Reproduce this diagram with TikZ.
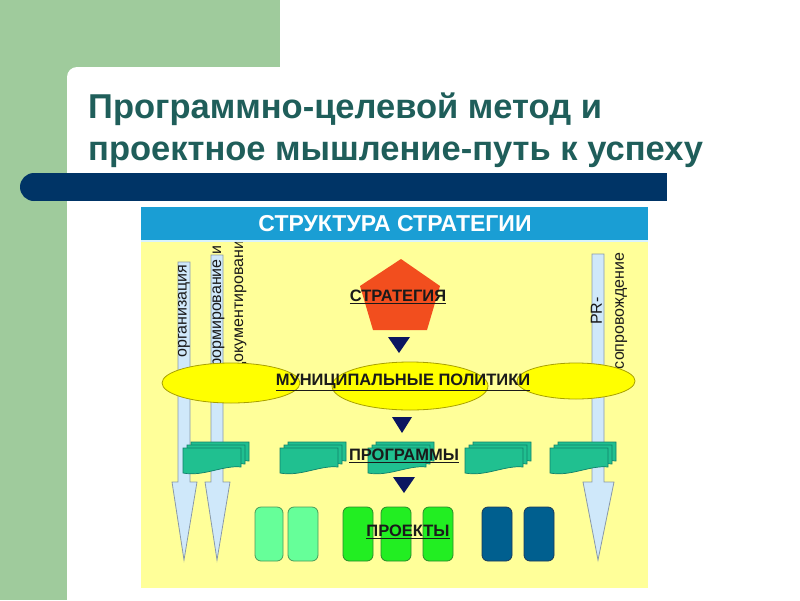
\documentclass[tikz,border=0pt]{standalone}
\usepackage{fontspec}
\setmainfont{Liberation Sans}
\definecolor{slidegreen}{HTML}{9FCB9C}
\definecolor{titlecol}{HTML}{1F5E5A}
\definecolor{barnavy}{HTML}{003466}
\definecolor{hdrblue}{HTML}{1A9ED4}
\definecolor{paleyellow}{HTML}{FFFF99}
\definecolor{arrowfill}{HTML}{CFE8FA}
\definecolor{arrowline}{HTML}{8A9AA8}
\definecolor{elfill}{HTML}{FFFF00}
\definecolor{elline}{HTML}{A8A000}
\definecolor{pentred}{HTML}{F24E1E}
\definecolor{trinavy}{HTML}{0B1660}
\definecolor{progfill}{HTML}{20C090}
\definecolor{progline}{HTML}{10806A}
\definecolor{lgfill}{HTML}{66FF99}
\definecolor{lgline}{HTML}{4A9A5A}
\definecolor{bgfill}{HTML}{22EE22}
\definecolor{bgline}{HTML}{2A8A2A}
\definecolor{dbfill}{HTML}{005F8F}
\definecolor{dbline}{HTML}{1A3A5A}
\definecolor{txtdark}{HTML}{1A1A1A}
\tikzset{
  bigarrow/.style={fill=arrowfill, draw=arrowline, line width=0.8pt, line join=miter},
  vlabel/.style={rotate=90, align=center, text=txtdark, font=\fontsize{16}{22}\selectfont, inner sep=0pt},
  ulabel/.style={text=txtdark, font=\fontsize{16.5}{19}\bfseries, inner sep=0pt},
  elstyle/.style={fill=elfill},
  elborder/.style={draw=elline, line width=0.8pt},
  tri/.style={fill=trinavy},
  prog/.style={fill=progfill, draw=progline, line width=0.7pt},
  proj/.style={rounded corners=6pt, line width=0.8pt},
  mdoc/.pic={
    \foreach \o in {8,4,0} {
      \filldraw[prog] (\o,-0.75*\o) -- (58+\o,-0.75*\o) -- (58+\o,19-0.75*\o)
        .. controls (40+\o,17-0.75*\o) and (20+\o,29-0.75*\o) .. (\o,25-0.75*\o) -- cycle;
    }
  }
}
\begin{document}
\begin{tikzpicture}[x=1pt,y=-1pt]
\useasboundingbox (0,0) rectangle (800,600);
% slide background
\fill[slidegreen] (0,0) rectangle (280,100);
\fill[slidegreen] (0,0) rectangle (67,600);
\fill[white, rounded corners=10pt] (67,67) rectangle (820,620);
% title
\node[anchor=base west, text=titlecol, font=\fontsize{34.5}{40}\bfseries, inner sep=0pt] (t1) at (88,118) {Программно-целевой метод и};
\node[anchor=base west, text=titlecol, font=\fontsize{34.5}{40}\bfseries, inner sep=0pt] (t2) at (88,160) {проектное мышление-путь к успеху};
% dark bar
\fill[barnavy] (34,173) rectangle (667,201);
\fill[barnavy] (34,187) circle[radius=14];
% diagram background
\fill[paleyellow] (141,240) rectangle (648,588);
% big arrows
\filldraw[bigarrow] (178,262) -- (190,262) -- (190,482) -- (197,482) -- (184,560) -- (172,482) -- (178,482) -- cycle;
\filldraw[bigarrow] (211,255) -- (223,255) -- (223,482) -- (230,482) -- (217,560) -- (205,482) -- (211,482) -- cycle;
\filldraw[bigarrow] (592,254) -- (604,254) -- (604,482) -- (614,482) -- (598,560) -- (583,482) -- (592,482) -- cycle;
% vertical labels
\node[vlabel] (org) at (184,311) {организация};
\node[vlabel, align=left, anchor=west] (form) at (228,372) {формирование и\\документирование};
\node[vlabel] (pr) at (609,311) {PR-\\сопровождение};
% header
\fill[hdrblue] (141,207) rectangle (648,240);
\fill[cyan!15] (141,240) rectangle (648,242);
\node[text=white, font=\fontsize{23}{26}\bfseries, inner sep=0pt] (hdr) at (395,224) {СТРУКТУРА СТРАТЕГИИ};
% pentagon
\fill[pentred] (401,259) -- (440,286) -- (427,330) -- (373,330) -- (360,286) -- cycle;
\node[ulabel] (strat) at (398,297) {\underline{СТРАТЕГИЯ}};
% triangles
\fill[tri] (388,337) -- (410,337) -- (399,353) -- cycle;
% ellipses
\fill[elstyle] (231,383) ellipse[x radius=69, y radius=20];
\fill[elstyle] (576,381) ellipse[x radius=59, y radius=18];
\fill[elstyle] (410,386) ellipse[x radius=78, y radius=24];
\draw[elborder] (231,383) ellipse[x radius=69, y radius=20];
\draw[elborder] (576,381) ellipse[x radius=59, y radius=18];
\draw[elborder] (410,386) ellipse[x radius=78, y radius=24];
\node[ulabel] (mun) at (403,382) {\underline{МУНИЦИПАЛЬНЫЕ ПОЛИТИКИ}};
\fill[tri] (392,417) -- (412,417) -- (402,433) -- cycle;
% programs
\pic at (183,448) {mdoc};
\pic at (280,448) {mdoc};
\pic at (368,448) {mdoc};
\pic at (465,448) {mdoc};
\pic at (550,448) {mdoc};
\node[ulabel] (progs) at (404,456) {\underline{ПРОГРАММЫ}};
\fill[tri] (393,477) -- (415,477) -- (404,493) -- cycle;
% projects
\filldraw[proj, fill=lgfill, draw=lgline] (255,507) rectangle (283,561);
\filldraw[proj, fill=lgfill, draw=lgline] (288,507) rectangle (318,561);
\filldraw[proj, fill=bgfill, draw=bgline] (343,507) rectangle (373,561);
\filldraw[proj, fill=bgfill, draw=bgline] (381,507) rectangle (411,561);
\filldraw[proj, fill=bgfill, draw=bgline] (423,507) rectangle (453,561);
\filldraw[proj, fill=dbfill, draw=dbline] (482,507) rectangle (512,561);
\filldraw[proj, fill=dbfill, draw=dbline] (524,507) rectangle (554,561);
\node[ulabel] (projs) at (408,532) {\underline{ПРОЕКТЫ}};
\end{tikzpicture}
\end{document}
